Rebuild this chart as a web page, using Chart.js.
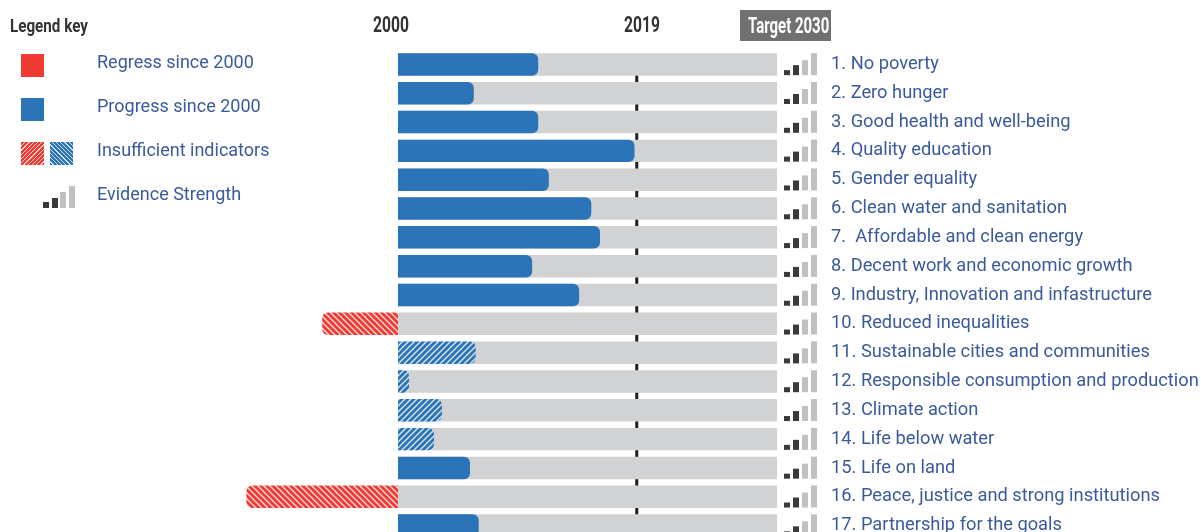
<!DOCTYPE html>
<html>
<head>
<meta charset="utf-8">
<script src="https://cdn.jsdelivr.net/npm/chart.js@4/dist/chart.umd.min.js"></script>
<style>
  body { margin: 0; overflow: hidden; background: #fff; }
  #wrap { position: relative; width: 1201px; height: 540px; }
  #sdgChart { position: absolute; left: 0; top: 0; }
  .cond { position: absolute; font-family: Roboto, sans-serif; font-weight: bold; color: #333; white-space: nowrap; transform-origin: 0 0; }
  .key { position: absolute; font-family: Roboto, sans-serif; font-size: 18px; color: #3a5a9b; white-space: nowrap; line-height: 20px; }
  .sw { position: absolute; width: 23px; height: 23px; }
  .ev { position: absolute; width: 6px; }
</style>
</head>
<body>
<div id="wrap">
  <canvas id="sdgChart" width="1201" height="540"></canvas>

  <div class="cond" style="left:10px; top:14px; font-size:19px; transform:scaleX(0.8);">Legend key</div>
  <div class="cond" style="left:373px; top:12px; font-size:22px; transform:scaleX(0.71);">2000</div>
  <div class="cond" style="left:624px; top:12px; font-size:22px; transform:scaleX(0.71);">2019</div>
  <div style="position:absolute; left:740px; top:10px; width:91px; height:31px; background:#707070;"></div>
  <div class="cond" style="left:748px; top:13px; font-size:22px; color:#fff; transform:scaleX(0.68);">Target 2030</div>

  <div class="sw" style="left:21px; top:54px; background:#ef3b33;"></div>
  <div class="sw" style="left:21px; top:98px; background:#2a74b7;"></div>
  <div class="sw" style="left:21px; top:142px; background:repeating-linear-gradient(-45deg, #ef3b33 0 2px, #fbd0cc 2px 3px);"></div>
  <div class="sw" style="left:50px; top:142px; background:repeating-linear-gradient(45deg, #2a74b7 0 2px, #cfe0f0 2px 3px);"></div>
  <div class="ev" style="left:43px; top:202px; height:6px; background:#3a3a3a;"></div>
  <div class="ev" style="left:52px; top:198px; height:10px; background:#3a3a3a;"></div>
  <div class="ev" style="left:60px; top:192px; height:16px; background:#c0c0c0;"></div>
  <div class="ev" style="left:69px; top:186px; height:22px; background:#c0c0c0;"></div>

  <div class="key" style="left:97px; top:52px;">Regress since 2000</div>
  <div class="key" style="left:97px; top:96px;">Progress since 2000</div>
  <div class="key" style="left:97px; top:140px;">Insufficient indicators</div>
  <div class="key" style="left:97px; top:184px;">Evidence Strength</div>
</div>

<script>
// SDG goals, top to bottom
const goals = [
  '1. No poverty',
  '2. Zero hunger',
  '3. Good health and well-being',
  '4. Quality education',
  '5. Gender equality',
  '6. Clean water and sanitation',
  '7.  Affordable and clean energy',
  '8. Decent work and economic growth',
  '9. Industry, Innovation and infastructure',
  '10. Reduced inequalities',
  '11. Sustainable cities and communities',
  '12. Responsible consumption and production',
  '13. Climate action',
  '14. Life below water',
  '15. Life on land',
  '16. Peace, justice and strong institutions',
  '17. Partnership for the goals'
]

// progress since 2000, % of the way to the 2030 target (negative = regress)
const progress = [37, 20, 37, 62.4, 39.8, 51, 53.3, 35.4, 47.8, -20, 20.5, 2.9, 11.6, 9.5, 19, -40, 21.3]
// 1 = insufficient indicators (hatched)
const insufficient = [0, 0, 0, 0, 0, 0, 0, 0, 0, 1, 1, 1, 1, 1, 0, 1, 0]
// evidence strength, out of 4
const evidence = [2, 2, 2, 2, 2, 2, 2, 2, 2, 2, 2, 2, 2, 2, 2, 2, 2]

const target = 100
const now2019 = 63

const BLUE = '#2a74b7'
const RED = '#ef3b33'

let canvas = document.getElementById('sdgChart')
let ctx = canvas.getContext('2d')

function hatch(color, dir) {
    const tile = document.createElement('canvas')
    tile.width = 6
    tile.height = 6
    const g = tile.getContext('2d')
    g.fillStyle = color
    g.fillRect(0, 0, 6, 6)
    g.strokeStyle = 'rgba(255,255,255,0.85)'
    g.lineWidth = 1.3
    g.beginPath()
    if (dir > 0) {
        g.moveTo(-1, 7); g.lineTo(7, -1)
        g.moveTo(-1, 1); g.lineTo(1, -1)
        g.moveTo(5, 7); g.lineTo(7, 5)
    } else {
        g.moveTo(-1, -1); g.lineTo(7, 7)
        g.moveTo(5, -1); g.lineTo(7, 1)
        g.moveTo(-1, 5); g.lineTo(1, 7)
    }
    g.stroke()
    return ctx.createPattern(tile, 'repeat')
}

const blueHatch = hatch(BLUE, 1)
const redHatch = hatch(RED, -1)

let barColors = progress.map((v, i) => {
    if (insufficient[i]) return v < 0 ? redHatch : blueHatch
    return v < 0 ? RED : BLUE
})

// dashed 2019 marker, drawn behind the bars
const markerLine = {
    id: 'markerLine',
    beforeDatasetsDraw(chart) {
        const x = chart.scales.x.getPixelForValue(now2019)
        const first = chart.getDatasetMeta(1).data[0]
        const c = chart.ctx
        c.save()
        c.strokeStyle = '#1e1e1e'
        c.lineWidth = 3
        c.beginPath()
        c.moveTo(x, first.y - first.height / 2 + 1)
        c.lineTo(x, chart.chartArea.bottom)
        c.stroke()
        c.restore()
    }
}

// little signal-strength icons next to each track
const evidenceIcons = {
    id: 'evidenceIcons',
    afterDatasetsDraw(chart) {
        const c = chart.ctx
        const x0 = chart.scales.x.getPixelForValue(target)
        const heights = [5, 10, 15, 22]
        const bars = chart.getDatasetMeta(1).data
        c.save()
        goals.forEach((g, i) => {
            const bottom = bars[i].y + bars[i].height / 2 - 0.5
            heights.forEach((h, k) => {
                c.fillStyle = k < evidence[i] ? '#3a3a3a' : '#c0c0c0'
                c.fillRect(x0 + 7 + k * 9, bottom - h, 6, h)
            })
        })
        c.restore()
    }
}

let sdgChart = new Chart(ctx, {
    type: 'bar',
    data: {
        labels: goals,
        datasets: [{
            label: 'progress',
            data: progress,
            backgroundColor: barColors,
            borderRadius: 6,
            borderSkipped: 'start',
            grouped: false,
            order: 0,
            barPercentage: 0.78,
            categoryPercentage: 1
        },
        {
            label: 'track',
            data: goals.map(() => target),
            backgroundColor: '#d1d2d4',
            borderRadius: 0,
            grouped: false,
            order: 1,
            barPercentage: 0.78,
            categoryPercentage: 1
        }]
    },
    options: {
        indexAxis: 'y',
        responsive: false,
        animation: false,
        layout: { padding: { top: 50, bottom: 0, left: 0, right: 0 } },
        plugins: {
            legend: { display: false },
            tooltip: { enabled: false }
        },
        scales: {
            x: {
                display: false,
                min: -105,
                max: target
            },
            y: {
                position: 'right',
                grid: { display: false, drawTicks: false },
                border: { display: false },
                afterFit: (axis) => {
                    axis.width = 1201 - 777
                    axis.paddingTop = 0
                    axis.paddingBottom = 0
                },
                ticks: {
                    padding: 54,
                    color: '#3a5a9b',
                    font: { family: 'Roboto', size: 18.3 }
                }
            }
        }
    },
    plugins: [markerLine, evidenceIcons]
});
</script>
</body>
</html>
